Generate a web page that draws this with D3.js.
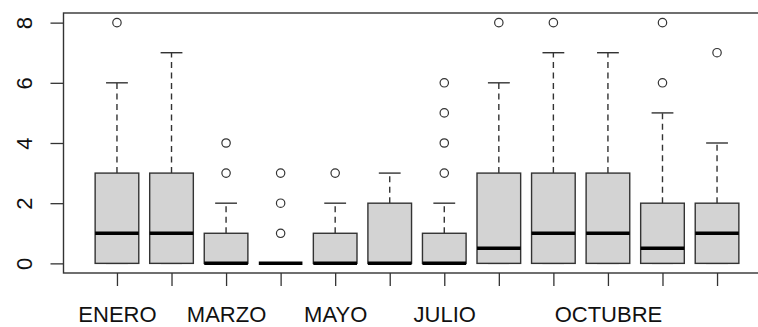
<!DOCTYPE html>
<html>
<head>
<meta charset="utf-8">
<script src="https://cdn.jsdelivr.net/npm/d3@7"></script>
<style>
  html, body { margin: 0; padding: 0; background: #fff; }
  svg { display: block; font-family: "Liberation Sans", Arial, sans-serif; }
</style>
</head>
<body>
<div id="chart"></div>
<script>
// month categories (one box each)
const months = ["ENERO", "FEBRERO", "MARZO", "ABRIL", "MAYO", "JUNIO",
  "JULIO", "AGOSTO", "SEPTIEMBRE", "OCTUBRE", "NOVIEMBRE", "DICIEMBRE"];
// labels R managed to print without overlap
const shownLabels = ["ENERO", "MARZO", "MAYO", "JULIO", "OCTUBRE"];

// box statistics
const whiskerLow  = [0, 0, 0, 0, 0, 0, 0, 0, 0, 0, 0, 0];
const q1          = [0, 0, 0, 0, 0, 0, 0, 0, 0, 0, 0, 0];
const medians     = [1, 1, 0, 0, 0, 0, 0, 0.5, 1, 1, 0.5, 1];
const q3          = [3, 3, 1, 0, 1, 2, 1, 3, 3, 3, 2, 2];
const whiskerHigh = [6, 7, 2, 0, 2, 3, 2, 6, 7, 7, 5, 4];
const outliers    = [[8], [], [3, 4], [1, 2, 3], [3], [], [3, 4, 5, 6], [8], [8], [], [6, 8], [7]];

const yTicks = [0, 2, 4, 6, 8];

const width = 758, height = 327;
const margin = {top: 13, left: 63.5, bottom: 273, right: 770.5};

const svg = d3.select("#chart").append("svg")
  .attr("width", width)
  .attr("height", height);

// R style: 4% padding around c(0.5, n + 0.5) and c(0, 8)
const xScale = d3.scaleLinear()
  .domain([0.02, 12.98])
  .range([margin.left, margin.right]);

const yScale = d3.scaleLinear()
  .domain([-0.32, 8.32])
  .range([margin.bottom, margin.top]);

const boxHalf = (xScale(1.4) - xScale(1)) ;
const ink = "#333";

// x axis
const xAxis = d3.axisBottom(xScale)
  .tickValues(d3.range(1, months.length + 1))
  .tickSize(13)
  .tickPadding(22)
  .tickFormat(i => shownLabels.includes(months[i - 1]) ? months[i - 1] : "");

const gx = svg.append("g")
  .attr("transform", "translate(0," + margin.bottom + ")")
  .call(xAxis);
gx.select(".domain").remove();
gx.selectAll(".tick line").attr("stroke", ink).attr("stroke-width", 1.3);
gx.selectAll(".tick text")
  .attr("fill", "#111")
  .attr("font-size", 22)
  .attr("dy", 0)
  .attr("y", 49);

// y axis with rotated labels
const yAxis = d3.axisLeft(yScale)
  .tickValues(yTicks)
  .tickSize(13);

const gy = svg.append("g")
  .attr("transform", "translate(" + margin.left + ",0)")
  .call(yAxis);
gy.select(".domain").remove();
gy.selectAll(".tick line").attr("stroke", ink).attr("stroke-width", 1.3);
gy.selectAll(".tick text")
  .attr("fill", "#111")
  .attr("font-size", 22)
  .attr("x", 0)
  .attr("dy", 0)
  .attr("text-anchor", "middle")
  .attr("transform", "translate(-32,0) rotate(-90)");

// boxes
const boxes = svg.append("g");

months.forEach((m, i) => {
  const cx = xScale(i + 1);
  const g = boxes.append("g");

  // whiskers (dashed)
  g.append("line")
    .attr("x1", cx).attr("x2", cx)
    .attr("y1", yScale(q3[i])).attr("y2", yScale(whiskerHigh[i]))
    .attr("stroke", ink).attr("stroke-width", 1.4)
    .attr("stroke-dasharray", "6,4.5");
  g.append("line")
    .attr("x1", cx).attr("x2", cx)
    .attr("y1", yScale(q1[i])).attr("y2", yScale(whiskerLow[i]))
    .attr("stroke", ink).attr("stroke-width", 1.4)
    .attr("stroke-dasharray", "6,4.5");

  // staples
  [whiskerHigh[i], whiskerLow[i]].forEach(v => {
    g.append("line")
      .attr("x1", cx - boxHalf / 2).attr("x2", cx + boxHalf / 2)
      .attr("y1", yScale(v)).attr("y2", yScale(v))
      .attr("stroke", ink).attr("stroke-width", 1.4);
  });

  // box
  g.append("rect")
    .attr("x", cx - boxHalf)
    .attr("width", boxHalf * 2)
    .attr("y", yScale(q3[i]))
    .attr("height", yScale(q1[i]) - yScale(q3[i]))
    .attr("fill", "#d3d3d3")
    .attr("stroke", ink)
    .attr("stroke-width", 1.4);

  // median
  g.append("line")
    .attr("x1", cx - boxHalf).attr("x2", cx + boxHalf)
    .attr("y1", yScale(medians[i])).attr("y2", yScale(medians[i]))
    .attr("stroke", "#000").attr("stroke-width", 3.5);

  // outliers
  g.selectAll("circle")
    .data(outliers[i])
    .enter().append("circle")
    .attr("cx", cx)
    .attr("cy", d => yScale(d))
    .attr("r", 4.2)
    .attr("fill", "none")
    .attr("stroke", ink)
    .attr("stroke-width", 1.2);
});

// plot frame
svg.append("rect")
  .attr("x", margin.left)
  .attr("y", margin.top)
  .attr("width", margin.right - margin.left)
  .attr("height", margin.bottom - margin.top)
  .attr("fill", "none")
  .attr("stroke", ink)
  .attr("stroke-width", 1.4);
</script>
</body>
</html>
